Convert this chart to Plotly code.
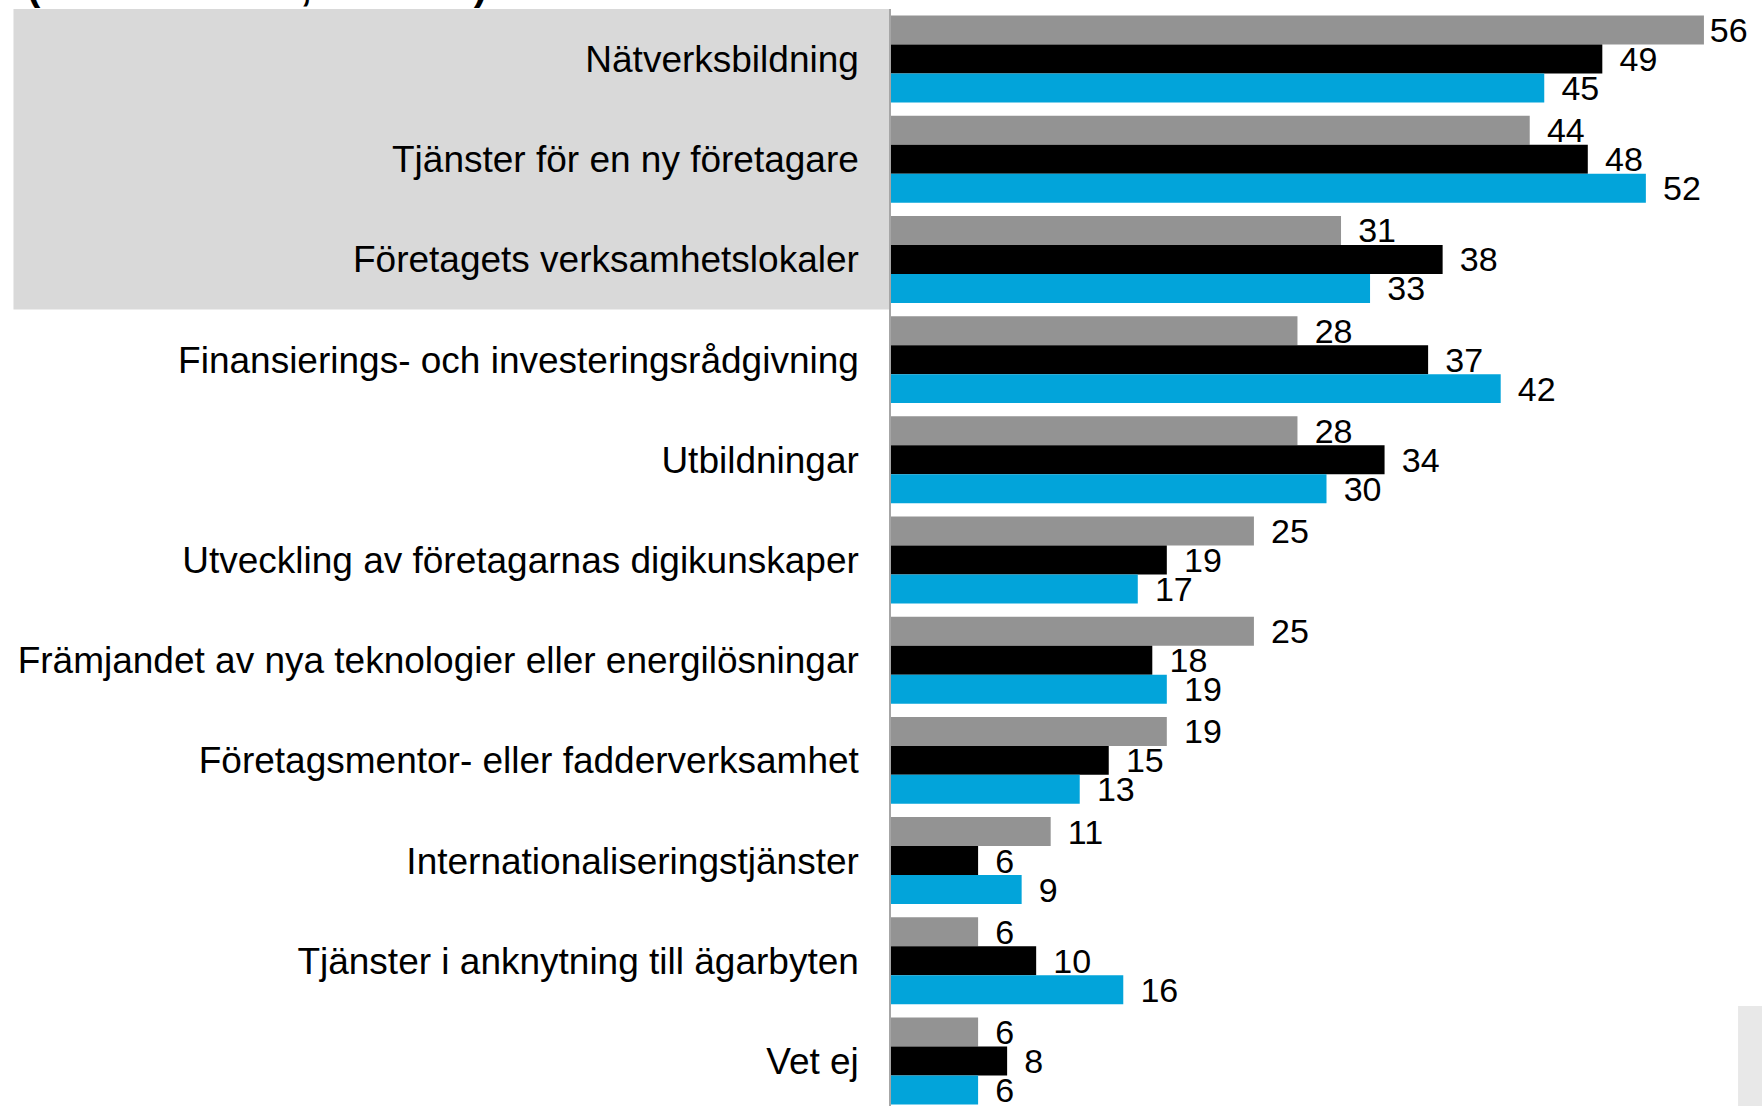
import plotly.graph_objects as go

# categories (top to bottom) and the three series shown as grey / black / blue bars
categories = [
    "Nätverksbildning",
    "Tjänster för en ny företagare",
    "Företagets verksamhetslokaler",
    "Finansierings- och investeringsrådgivning",
    "Utbildningar",
    "Utveckling av företagarnas digikunskaper",
    "Främjandet av nya teknologier eller energilösningar",
    "Företagsmentor- eller fadderverksamhet",
    "Internationaliseringstjänster",
    "Tjänster i anknytning till ägarbyten",
    "Vet ej",
]
series_names = ["2019", "2021", "2023"]
grey_values = [56, 44, 31, 28, 28, 25, 25, 19, 11, 6, 6]
black_values = [49, 48, 38, 37, 34, 19, 18, 15, 6, 10, 8]
blue_values = [45, 52, 33, 42, 30, 17, 19, 13, 9, 16, 6]
series_colors = ["#939393", "#000000", "#02A4DA"]

FONT = "Liberation Sans, Arial, sans-serif"
top_value = max(grey_values + black_values + blue_values)

fig = go.Figure()
for name, vals, col in zip(series_names, [grey_values, black_values, blue_values], series_colors):
    # the longest bar's label sits tight to the bar so it stays inside the picture
    templates = ["\u200a%{x}" if v == top_value else "\u2005\u2006%{x}" for v in vals]
    fig.add_trace(go.Bar(
        name=name,
        y=categories,
        x=vals,
        orientation="h",
        marker=dict(color=col, line=dict(width=0)),
        text=vals,
        texttemplate=templates,
        textposition="outside",
        textfont=dict(family=FONT, size=34, color="#000000"),
        constraintext="none",
        cliponaxis=False,
    ))

# grey box behind the first three labels
fig.add_shape(type="rect", xref="paper", yref="y",
              x0=-1.0075, x1=0, y0=-0.5, y1=2.5,
              fillcolor="#D9D9D9", line=dict(width=0), layer="below")
# small grey box bottom right
fig.add_shape(type="rect", xref="paper", yref="paper",
              x0=0.9725, x1=1.0, y0=0, y1=0.0912,
              fillcolor="#E8E8E8", line=dict(width=0), layer="below")

# title, mostly cut off at the top of the picture
fig.add_annotation(text="<b>(Alla svarande, andel %)</b>", xref="paper", yref="paper",
                   x=-0.9943, y=1.0209, xanchor="left", yanchor="middle",
                   showarrow=False, font=dict(family=FONT, size=40, color="#000000"))

fig.update_layout(
    width=1762, height=1106,
    margin=dict(l=891, r=0, t=9, b=0),
    barmode="group",
    bargap=0.132,
    bargroupgap=0,
    showlegend=False,
    paper_bgcolor="white",
    plot_bgcolor="white",
    font=dict(family=FONT, color="#000000"),
)
fig.update_xaxes(range=[0, 60], visible=False, showgrid=False, zeroline=False)
fig.update_yaxes(
    range=[10.45, -0.5],
    showgrid=False, zeroline=False,
    showline=True, linecolor="#A6A6A6", linewidth=1.5,
    ticks="", ticklabelstandoff=23,
    tickfont=dict(family=FONT, size=37, color="#000000"),
)

# drop the page's default body margin so the figure fills the window exactly
fig.write_html("out.html", config={"displayModeBar": False},
               post_script="document.body.style.margin='0';")
